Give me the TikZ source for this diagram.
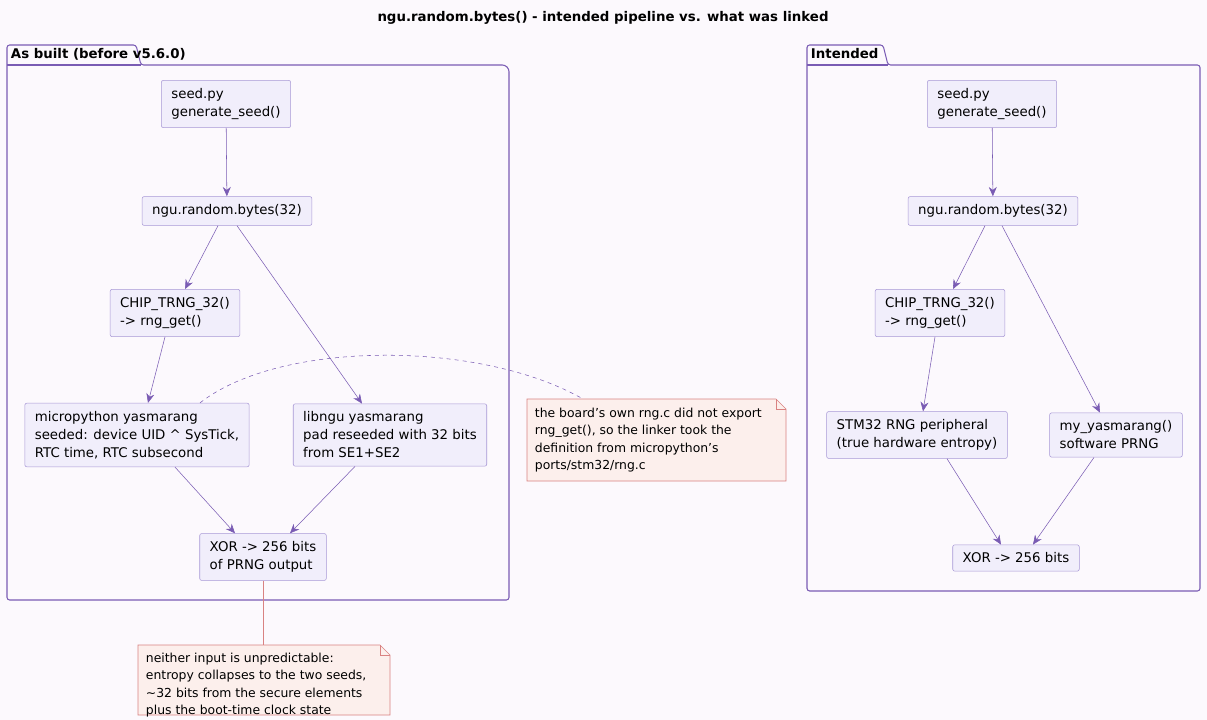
\documentclass[tikz,border=0pt]{standalone}
\usepackage{fontspec}
\setmainfont{DejaVu Sans}
\usetikzlibrary{calc,arrows.meta}
\definecolor{bgc}{HTML}{FCF9FD}
\definecolor{boxfill}{HTML}{F1EEFB}
\definecolor{boxline}{HTML}{A898D6}
\definecolor{arr}{HTML}{7A5CB4}
\definecolor{notefill}{HTML}{FCEFEC}
\definecolor{noteline}{HTML}{D98282}
\begin{document}
\begin{tikzpicture}[x=0.75pt,y=-0.75pt]
	\tikzset{stage/.style = {draw=boxline,fill=boxfill,rounded corners=1.5pt,align=left,font=\fontsize{10}{13.5}\selectfont,inner xsep=7.5pt,inner ysep=6pt}}
	\tikzset{flow/.style = {draw=arr,-{Stealth[length=7pt,width=6pt]}}}
	\tikzset{pkg/.style = {draw=arr,thick}}
	\tikzset{note/.style = {align=left,font=\fontsize{9.3}{13}\selectfont,inner sep=5pt,anchor=north west}}
	\fill[bgc] (0,0) rectangle (1207,720);
	\useasboundingbox (0,0) rectangle (1207,720);
	\node[font=\bfseries\fontsize{10}{12}\selectfont] (title) at (603,18) {ngu.random.bytes() - intended pipeline vs. what was linked};
	% packages
	\draw[pkg,rounded corners=2pt] (7,65) -- (7,45) -- (136,45) -- (141,65) -- (505,65) -- (509,69) -- (509,600) -- (7,600) -- cycle;
	\draw[pkg] (7,65) -- (141,65);
	\node[anchor=west,font=\bfseries\fontsize{10}{12}\selectfont,inner sep=2pt] (lpkg) at (8,54) {As built (before v5.6.0)};
	\draw[pkg,rounded corners=2pt] (807,65) -- (807,45) -- (883,45) -- (888,65) -- (1200,65) -- (1200,591) -- (807,591) -- cycle;
	\draw[pkg] (807,65) -- (888,65);
	\node[anchor=west,font=\bfseries\fontsize{10}{12}\selectfont,inner sep=2pt] (rpkg) at (808,54) {Intended};
	% as built
	\node[stage] (seedA) at (226,104) {seed.py\\generate\_seed()};
	\node[stage] (nguA) at (227,211) {ngu.random.bytes(32)};
	\node[stage] (chipA) at (175,313) {CHIP\_TRNG\_32()\\-> rng\_get()};
	\node[stage] (micro) at (137,435) {micropython yasmarang\\seeded: device UID \^{} SysTick,\\RTC time, RTC subsecond};
	\node[stage] (libngu) at (390,435) {libngu yasmarang\\pad reseeded with 32 bits\\from SE1+SE2};
	\node[stage] (xorA) at (263,557) {XOR -> 256 bits\\of PRNG output};
	\draw[flow] (seedA) -- (nguA);
	\draw[flow] ($(nguA.south)+(-9,0)$) -- ($(chipA.north)+(10,0)$);
	\draw[flow] ($(nguA.south)+(10,0)$) -- ($(libngu.north)+(-28,0)$);
	\draw[flow] ($(chipA.south)+(-10,0)$) -- ($(micro.north)+(11,0)$);
	\draw[flow] ($(micro.south)+(38,0)$) -- ($(xorA.north)+(-28,0)$);
	\draw[flow] ($(libngu.south)+(-35,0)$) -- ($(xorA.north)+(27,0)$);
	% intended
	\node[stage] (seedB) at (992,104) {seed.py\\generate\_seed()};
	\node[stage] (nguB) at (993,211) {ngu.random.bytes(32)};
	\node[stage] (chipB) at (940,313) {CHIP\_TRNG\_32()\\-> rng\_get()};
	\node[stage] (stm) at (917,435) {STM32 RNG peripheral\\(true hardware entropy)};
	\node[stage] (myy) at (1116,435) {my\_yasmarang()\\software PRNG};
	\node[stage] (xorB) at (1016,558) {XOR -> 256 bits};
	\draw[flow] (seedB) -- (nguB);
	\draw[flow] ($(nguB.south)+(-8,0)$) -- ($(chipB.north)+(13,0)$);
	\draw[flow] ($(nguB.south)+(9,0)$) -- ($(myy.north)+(-16,0)$);
	\draw[flow] ($(chipB.south)+(-5,0)$) -- ($(stm.north)+(6,0)$);
	\draw[flow] ($(stm.south)+(30,0)$) -- ($(xorB.north)+(-15,0)$);
	\draw[flow] ($(myy.south)+(-22,0)$) -- ($(xorB.north)+(17,0)$);
	% notes
	\draw[noteline,fill=notefill] (527,399) -- (776,399) -- (786,409) -- (786,481) -- (527,481) -- cycle;
	\draw[noteline] (776,399) -- (776,409) -- (786,409);
	\node[note] (noteA) at (528,401) {the board's own rng.c did not export\\rng\_get(), so the linker took the\\definition from micropython's\\ports/stm32/rng.c};
	\draw[noteline,fill=notefill] (138,645) -- (380,645) -- (390,655) -- (390,715) -- (138,715) -- cycle;
	\draw[noteline] (380,645) -- (380,655) -- (390,655);
	\node[note] (noteB) at (139,646) {neither input is unpredictable:\\entropy collapses to the two seeds,\\\textasciitilde32 bits from the secure elements\\plus the boot-time clock state};
	\coordinate (tipA) at (583,399);
	\coordinate (tipB) at (263,645);
	\draw[arr,dashed] ($(micro.north)+(63,0)$) .. controls (280,340) and (480,340) .. (tipA);
	\draw[noteline] (xorA.south) -- (tipB);
\end{tikzpicture}
\end{document}
